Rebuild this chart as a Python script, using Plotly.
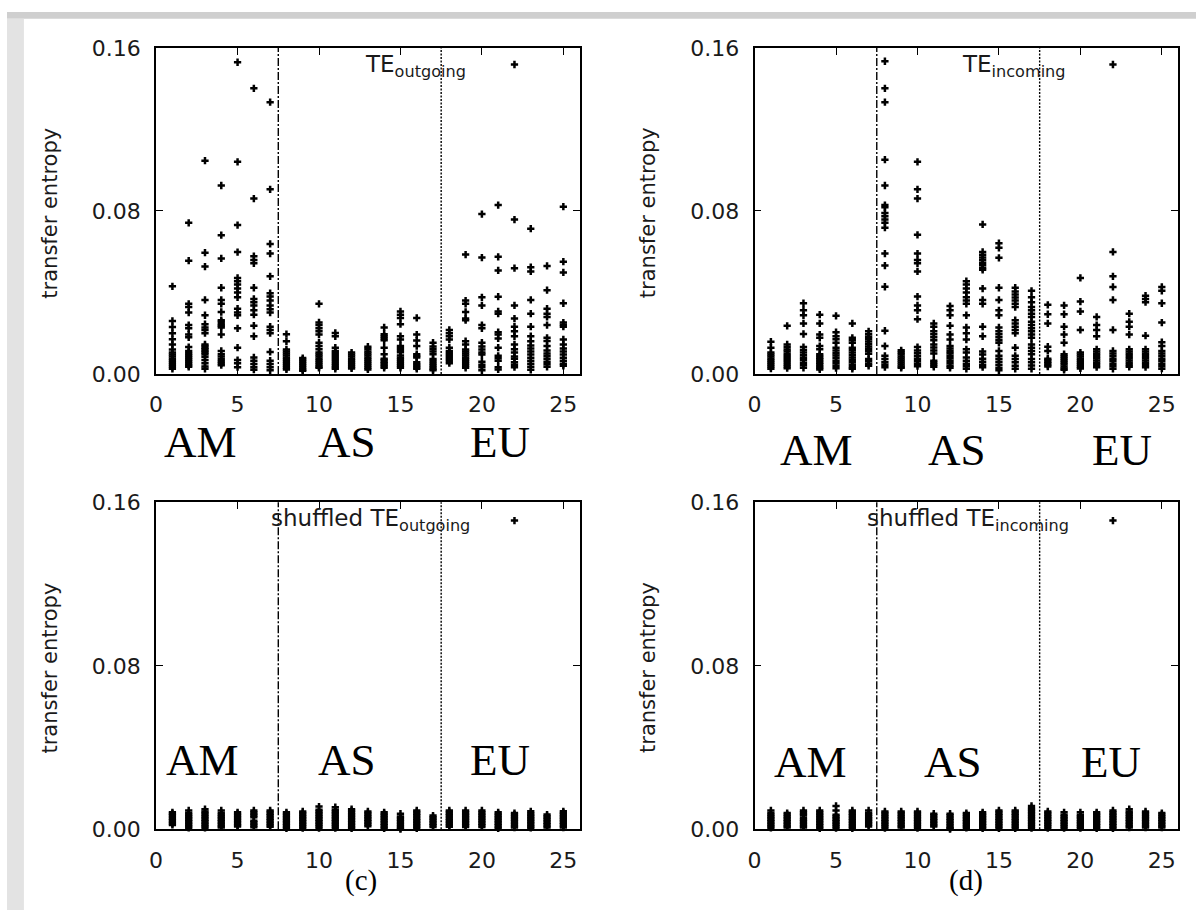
import plotly.graph_objects as go

# ---------------- data ----------------
markets = list(range(1, 26))

te_out = [
    [0.043, 0.026, 0.023, 0.020, 0.017, 0.0145, 0.012, 0.0105, 0.0095, 0.0085, 0.0075, 0.0065, 0.0055, 0.0045, 0.0035, 0.0025],
    [0.0742, 0.0556, 0.0344, 0.0328, 0.0301, 0.024, 0.0224, 0.0193, 0.018, 0.0132, 0.0113, 0.0102, 0.0092, 0.0082, 0.0072, 0.0062, 0.0052, 0.0042, 0.0035],
    [0.1047, 0.0595, 0.0527, 0.0363, 0.0288, 0.0244, 0.0228, 0.0216, 0.02, 0.0145, 0.0137, 0.0129, 0.0121, 0.0113, 0.0105, 0.0097, 0.0084, 0.0068, 0.0053, 0.0037, 0.0025],
    [0.0925, 0.0681, 0.0567, 0.0423, 0.0363, 0.0344, 0.0304, 0.0264, 0.0256, 0.0244, 0.0236, 0.0228, 0.0193, 0.0113, 0.0097, 0.0085, 0.0073, 0.0062, 0.0052, 0.0043],
    [0.153, 0.1041, 0.0731, 0.0598, 0.0471, 0.0455, 0.0439, 0.0419, 0.04, 0.0376, 0.032, 0.0301, 0.0288, 0.0224, 0.0129, 0.0068, 0.0053, 0.0033],
    [0.1402, 0.0861, 0.0578, 0.0559, 0.0543, 0.0423, 0.0368, 0.0352, 0.0336, 0.0312, 0.0291, 0.0237, 0.0185, 0.0081, 0.0065, 0.0049, 0.0033, 0.0021],
    [0.1334, 0.0906, 0.0638, 0.0591, 0.0479, 0.0396, 0.038, 0.036, 0.0336, 0.0317, 0.0301, 0.0232, 0.0216, 0.02, 0.0108, 0.0065, 0.0049, 0.0033, 0.0018],
    [0.0195, 0.016, 0.012, 0.011, 0.010, 0.009, 0.008, 0.007, 0.006, 0.005, 0.004, 0.003, 0.0022],
    [0.0078, 0.007, 0.006, 0.005, 0.004, 0.003, 0.002, 0.0015],
    [0.0344, 0.0253, 0.024, 0.0224, 0.0209, 0.0193, 0.0153, 0.0137, 0.0121, 0.0105, 0.0095, 0.0085, 0.0075, 0.0065, 0.0055, 0.0045, 0.0035, 0.003],
    [0.0201, 0.0185, 0.0129, 0.0113, 0.0103, 0.0093, 0.0083, 0.0073, 0.0063, 0.0053, 0.0043, 0.0033, 0.0025],
    [0.0105, 0.0095, 0.0085, 0.0075, 0.0065, 0.0055, 0.0045, 0.0035, 0.0027],
    [0.0134, 0.0122, 0.011, 0.01, 0.009, 0.008, 0.007, 0.006, 0.005, 0.004, 0.003, 0.0022],
    [0.0228, 0.0195, 0.0185, 0.0175, 0.0165, 0.0129, 0.0097, 0.0075, 0.0068, 0.006, 0.0052, 0.0045, 0.0037, 0.003],
    [0.0307, 0.0291, 0.0275, 0.0244, 0.0185, 0.0169, 0.0137, 0.0127, 0.0117, 0.0107, 0.0091, 0.008, 0.007, 0.006, 0.005, 0.004, 0.003],
    [0.0275, 0.0193, 0.0164, 0.0137, 0.0097, 0.0088, 0.0081, 0.0057, 0.0048, 0.004, 0.0032, 0.0025],
    [0.0153, 0.0135, 0.0122, 0.011, 0.0097, 0.0073, 0.0063, 0.0053, 0.0043, 0.0033, 0.0024, 0.0018],
    [0.0216, 0.02, 0.0185, 0.0169, 0.0129, 0.0113, 0.0103, 0.0093, 0.0083, 0.0073, 0.0063, 0.0053],
    [0.0586, 0.036, 0.0344, 0.0304, 0.0272, 0.0264, 0.0161, 0.0145, 0.012, 0.011, 0.01, 0.009, 0.008, 0.007, 0.006, 0.005, 0.004, 0.003],
    [0.0785, 0.0571, 0.0376, 0.0336, 0.024, 0.0224, 0.0153, 0.0135, 0.012, 0.0105, 0.0095, 0.006, 0.0045, 0.0033, 0.0018],
    [0.0829, 0.0575, 0.0508, 0.0379, 0.0307, 0.0296, 0.0205, 0.0193, 0.0174, 0.0129, 0.0089, 0.0077, 0.0065, 0.0033, 0.0022],
    [0.1519, 0.0758, 0.0519, 0.0336, 0.0272, 0.0232, 0.0209, 0.0185, 0.0145, 0.0121, 0.0105, 0.0085, 0.0075, 0.0057, 0.0045, 0.0033],
    [0.0713, 0.0524, 0.0503, 0.0363, 0.0296, 0.0232, 0.0185, 0.016, 0.014, 0.0125, 0.011, 0.0095, 0.008, 0.0065, 0.005, 0.0035, 0.002],
    [0.053, 0.0411, 0.032, 0.0296, 0.028, 0.024, 0.0177, 0.0162, 0.0137, 0.0115, 0.01, 0.0088, 0.0075, 0.006, 0.0048, 0.0035],
    [0.0821, 0.0551, 0.0498, 0.0347, 0.0252, 0.0242, 0.0232, 0.0169, 0.0145, 0.0125, 0.011, 0.0095, 0.008, 0.0065, 0.005, 0.004],
]

te_in = [
    [0.0158, 0.0129, 0.0105, 0.0095, 0.0085, 0.0075, 0.0065, 0.0055, 0.0045, 0.0035, 0.0026],
    [0.0236, 0.0145, 0.0132, 0.012, 0.011, 0.0098, 0.0088, 0.0078, 0.0068, 0.0058, 0.0048, 0.0038, 0.0028],
    [0.0347, 0.0312, 0.0288, 0.0248, 0.0196, 0.0132, 0.0118, 0.0105, 0.0092, 0.008, 0.0068, 0.0055, 0.0043, 0.003],
    [0.0291, 0.0248, 0.0193, 0.0177, 0.0137, 0.0121, 0.0097, 0.0088, 0.008, 0.0072, 0.0063, 0.0055, 0.0047, 0.0038, 0.003, 0.0022],
    [0.0285, 0.0205, 0.0185, 0.017, 0.0153, 0.0129, 0.0115, 0.0102, 0.009, 0.0078, 0.0065, 0.0052, 0.004, 0.0028],
    [0.0248, 0.0177, 0.0165, 0.0153, 0.0129, 0.0117, 0.0105, 0.0093, 0.0081, 0.0069, 0.0057, 0.0045, 0.0033, 0.0025],
    [0.0209, 0.0195, 0.0183, 0.0171, 0.0159, 0.0147, 0.0135, 0.0123, 0.0111, 0.0099, 0.0073, 0.0062, 0.005, 0.004],
    [0.1535, 0.1402, 0.1334, 0.1052, 0.0925, 0.0829, 0.0818, 0.079, 0.0774, 0.0758, 0.0742, 0.0718, 0.0591, 0.0532, 0.0428, 0.0212, 0.0137, 0.0089, 0.0073, 0.0057, 0.0045, 0.0033],
    [0.0116, 0.0106, 0.0096, 0.0086, 0.0076, 0.0066, 0.0056, 0.0046, 0.0036, 0.003],
    [0.1041, 0.0906, 0.0861, 0.0683, 0.0591, 0.0559, 0.0543, 0.0503, 0.038, 0.0336, 0.0312, 0.0269, 0.0132, 0.0115, 0.0102, 0.0088, 0.0075, 0.0062, 0.005, 0.0038],
    [0.0248, 0.0232, 0.0209, 0.0195, 0.018, 0.0165, 0.0145, 0.013, 0.0115, 0.01, 0.0065, 0.0055, 0.0045, 0.0035],
    [0.0333, 0.0312, 0.0288, 0.0237, 0.0193, 0.0169, 0.0137, 0.0125, 0.0113, 0.0101, 0.0089, 0.0077, 0.0065, 0.0053, 0.004, 0.003],
    [0.0455, 0.0439, 0.0419, 0.04, 0.0376, 0.036, 0.0344, 0.0288, 0.0228, 0.02, 0.0169, 0.0121, 0.0105, 0.0081, 0.0065, 0.005, 0.0038, 0.0025],
    [0.0734, 0.0599, 0.0585, 0.0572, 0.0559, 0.0546, 0.0533, 0.052, 0.0511, 0.0419, 0.0363, 0.0344, 0.0232, 0.0185, 0.011, 0.0095, 0.0075, 0.006, 0.0045, 0.0033],
    [0.0642, 0.0619, 0.057, 0.0423, 0.0363, 0.0312, 0.0288, 0.0228, 0.021, 0.0195, 0.018, 0.0165, 0.0153, 0.0113, 0.0089, 0.0075, 0.006, 0.0045, 0.003, 0.0018],
    [0.0423, 0.0405, 0.039, 0.0375, 0.036, 0.0345, 0.0328, 0.0264, 0.0248, 0.0232, 0.0216, 0.02, 0.0129, 0.0089, 0.0073, 0.0057, 0.004, 0.0025],
    [0.0408, 0.0376, 0.0352, 0.0328, 0.0312, 0.0296, 0.028, 0.0256, 0.024, 0.0224, 0.0209, 0.0193, 0.0177, 0.0145, 0.0129, 0.0113, 0.0097, 0.0073, 0.0057, 0.0041, 0.0025],
    [0.0339, 0.0293, 0.0248, 0.0134, 0.0113, 0.0075, 0.0068, 0.006, 0.0052, 0.0044, 0.0036],
    [0.0336, 0.0293, 0.0232, 0.0193, 0.0153, 0.0097, 0.0087, 0.0077, 0.0067, 0.0057, 0.0047, 0.0037, 0.0027, 0.002],
    [0.0471, 0.0355, 0.0307, 0.0216, 0.0105, 0.0095, 0.0085, 0.0075, 0.0065, 0.0055, 0.0045, 0.0035, 0.0027],
    [0.028, 0.024, 0.0216, 0.0185, 0.0121, 0.011, 0.0099, 0.0088, 0.0077, 0.0066, 0.0055, 0.0044, 0.0033],
    [0.1519, 0.0599, 0.0479, 0.0427, 0.0363, 0.0216, 0.0113, 0.01, 0.0088, 0.0075, 0.0063, 0.005, 0.0038, 0.0025],
    [0.0296, 0.0256, 0.0232, 0.0193, 0.0121, 0.011, 0.0099, 0.0088, 0.0077, 0.0066, 0.0055, 0.0044, 0.0035],
    [0.0384, 0.0368, 0.0352, 0.0188, 0.0121, 0.011, 0.0099, 0.0088, 0.0077, 0.0066, 0.0055, 0.0044, 0.0033],
    [0.0427, 0.0408, 0.0347, 0.0252, 0.0156, 0.0137, 0.0113, 0.01, 0.0088, 0.0075, 0.0063, 0.005, 0.0038, 0.0026],
]

sh_out = [
    [0.0083, 0.0076, 0.0068, 0.006, 0.0052, 0.0044, 0.0036, 0.0028, 0.0021],
    [0.0092, 0.0079, 0.0071, 0.0063, 0.0055, 0.0047, 0.0039, 0.0031, 0.0023, 0.0015, 0.0007],
    [0.0098, 0.0087, 0.0079, 0.0071, 0.0063, 0.0055, 0.0047, 0.0039, 0.0031, 0.0023, 0.0015, 0.0007],
    [0.0092, 0.0079, 0.0071, 0.0063, 0.0055, 0.0047, 0.0039, 0.0031, 0.0023, 0.0015, 0.0009],
    [0.0083, 0.0075, 0.0067, 0.0059, 0.0051, 0.0043, 0.0035, 0.0027, 0.0019, 0.0013],
    [0.0092, 0.0083, 0.0075, 0.0067, 0.0059, 0.0042, 0.0034, 0.0026, 0.0018, 0.001],
    [0.0092, 0.0084, 0.0076, 0.0068, 0.006, 0.0052, 0.0044, 0.0036, 0.0028, 0.002, 0.0012],
    [0.0083, 0.0075, 0.0067, 0.0059, 0.0051, 0.0043, 0.0035, 0.0027, 0.0019, 0.0011, 0.0004],
    [0.0087, 0.0079, 0.0071, 0.0063, 0.0055, 0.0047, 0.0039, 0.0031, 0.0023, 0.0015, 0.0006],
    [0.0111, 0.0095, 0.0087, 0.0079, 0.0071, 0.0063, 0.0055, 0.0047, 0.0039, 0.0031, 0.0023, 0.0015, 0.0006],
    [0.0108, 0.0095, 0.0087, 0.0079, 0.0071, 0.0063, 0.0055, 0.0047, 0.0039, 0.0031, 0.0023, 0.0015, 0.0006],
    [0.0098, 0.009, 0.0082, 0.0074, 0.0066, 0.0058, 0.005, 0.0042, 0.0034, 0.0026, 0.0018, 0.001, 0.0004],
    [0.0087, 0.0079, 0.0071, 0.0063, 0.0055, 0.0047, 0.0039, 0.0031, 0.0023, 0.0015],
    [0.0083, 0.0075, 0.0067, 0.0059, 0.0051, 0.0043, 0.0035, 0.0027, 0.0019, 0.0011, 0.0004],
    [0.0076, 0.0063, 0.0055, 0.0047, 0.0039, 0.0031, 0.0023, 0.0015, 0.0007, 0.0001],
    [0.0092, 0.0084, 0.0076, 0.0068, 0.006, 0.0052, 0.0044, 0.0036, 0.0028, 0.002, 0.0012, 0.0004],
    [0.0067, 0.0059, 0.0051, 0.0043, 0.0035, 0.0027, 0.0019, 0.0011],
    [0.0092, 0.0084, 0.0076, 0.0068, 0.006, 0.0052, 0.0044, 0.0036, 0.0028, 0.002, 0.0012],
    [0.0092, 0.0083, 0.0075, 0.0067, 0.0059, 0.0051, 0.0043, 0.0035, 0.0027, 0.0019, 0.0011],
    [0.0092, 0.0083, 0.0075, 0.0067, 0.0059, 0.0051, 0.0043, 0.0035, 0.0027, 0.0019, 0.0011],
    [0.0083, 0.0075, 0.0067, 0.0059, 0.0051, 0.0043, 0.0035, 0.0027, 0.0019, 0.0011, 0.0004],
    [0.1511, 0.0079, 0.0071, 0.0063, 0.0055, 0.0047, 0.0039, 0.0031, 0.0023, 0.0015, 0.0008],
    [0.0088, 0.0078, 0.007, 0.0062, 0.0054, 0.0046, 0.0038, 0.003, 0.0022, 0.0014, 0.0007],
    [0.0072, 0.0064, 0.0056, 0.0048, 0.004, 0.0032, 0.0024, 0.0016, 0.0009],
    [0.0088, 0.008, 0.0072, 0.0064, 0.0056, 0.0048, 0.004, 0.0032, 0.0024, 0.0016, 0.0008],
]

sh_in = [
    [0.0092, 0.0079, 0.0071, 0.0063, 0.0055, 0.0047, 0.0039, 0.0031, 0.0023, 0.0015, 0.0007],
    [0.0079, 0.0071, 0.0063, 0.0055, 0.0047, 0.0039, 0.0031, 0.0023, 0.0015, 0.0009],
    [0.0092, 0.0083, 0.0075, 0.0067, 0.0055, 0.0047, 0.0039, 0.0031, 0.0023, 0.0015, 0.0009],
    [0.0092, 0.0083, 0.0075, 0.0067, 0.0059, 0.0051, 0.0043, 0.0035, 0.0027, 0.0019, 0.0011, 0.0004],
    [0.0114, 0.0092, 0.0071, 0.0063, 0.0055, 0.0047, 0.0039, 0.0031, 0.0023, 0.0015, 0.0006],
    [0.0092, 0.0084, 0.0076, 0.0068, 0.006, 0.0052, 0.0044, 0.0036, 0.0028, 0.002, 0.0012, 0.0004],
    [0.0092, 0.0079, 0.0071, 0.0063, 0.0054, 0.0046, 0.0038, 0.003, 0.0022, 0.0014],
    [0.0087, 0.0079, 0.0071, 0.0063, 0.0055, 0.0047, 0.0039, 0.0031, 0.0023, 0.0015, 0.0006],
    [0.0087, 0.0079, 0.0071, 0.0063, 0.0055, 0.0047, 0.0039, 0.0031, 0.0023, 0.0015, 0.0009],
    [0.0087, 0.0079, 0.0071, 0.0063, 0.0055, 0.0047, 0.0039, 0.0031, 0.0023, 0.0015, 0.0006],
    [0.0076, 0.0068, 0.006, 0.0052, 0.0044, 0.0036, 0.0028, 0.002, 0.0013],
    [0.0076, 0.0068, 0.006, 0.0052, 0.0044, 0.0036, 0.0028, 0.002, 0.0012, 0.0005, 0.0001],
    [0.0079, 0.0071, 0.0063, 0.0055, 0.0047, 0.0039, 0.0031, 0.0023, 0.0015, 0.0007],
    [0.0083, 0.0075, 0.0067, 0.0059, 0.0051, 0.0043, 0.0035, 0.0027, 0.0019, 0.0011, 0.0004],
    [0.0092, 0.0084, 0.0076, 0.0068, 0.006, 0.0052, 0.0044, 0.0036, 0.0028, 0.002, 0.0012, 0.0004],
    [0.0092, 0.0084, 0.0076, 0.0068, 0.006, 0.0052, 0.0044, 0.0036, 0.0028, 0.002, 0.0012, 0.0004],
    [0.0114, 0.0103, 0.0095, 0.0087, 0.0079, 0.0071, 0.0063, 0.0055, 0.0047, 0.0039, 0.0031, 0.0023, 0.0015, 0.0006],
    [0.0087, 0.0079, 0.0071, 0.0063, 0.0055, 0.0047, 0.0039, 0.0031, 0.0023, 0.0015, 0.0006],
    [0.0083, 0.0071, 0.0063, 0.0055, 0.0047, 0.0039, 0.0031, 0.0023, 0.0015, 0.0006],
    [0.0083, 0.0071, 0.0063, 0.0056, 0.0046, 0.0038, 0.003, 0.0022, 0.0014, 0.0006],
    [0.0083, 0.0075, 0.0067, 0.0059, 0.0051, 0.0043, 0.0035, 0.0027, 0.0019, 0.0011, 0.0004],
    [0.1511, 0.0092, 0.0083, 0.0075, 0.0067, 0.0059, 0.0051, 0.0043, 0.0035, 0.0027, 0.0019, 0.0011, 0.0004],
    [0.0098, 0.0087, 0.0079, 0.0071, 0.0063, 0.0055, 0.0047, 0.0039, 0.0031, 0.0023, 0.0015, 0.0008],
    [0.0087, 0.0079, 0.0071, 0.0063, 0.0055, 0.0047, 0.0039, 0.0031, 0.0023, 0.0015, 0.0008],
    [0.0079, 0.0071, 0.0063, 0.0055, 0.0047, 0.0039, 0.0031, 0.0023, 0.0015, 0.0008],
]

x_ticks = [0, 5, 10, 15, 20, 25]
y_ticks = [0.0, 0.08, 0.16]
region_bounds = [7.5, 17.5]
region_labels = ["AM", "AS", "EU"]
panel_titles = ["TE<sub>outgoing</sub>", "TE<sub>incoming</sub>",
                "shuffled TE<sub>outgoing</sub>", "shuffled TE<sub>incoming</sub>"]
panel_letters = ["", "", "(c)", "(d)"]
y_title = "transfer entropy"

# ---------------- layout geometry (pixels) ----------------
W, H = 1196, 923
panels = [
    dict(data=te_out, x0=150, x1=576, y0=37, y1=372),
    dict(data=te_in, x0=752, x1=1178, y0=37, y1=372),
    dict(data=sh_out, x0=150, x1=576, y0=504, y1=840),
    dict(data=sh_in, x0=752, x1=1178, y0=504, y1=840),
]
title_x = [12.7, 12.6, 6.9, 6.8]
label_pos = [
    [(195, 442), (342, 442), (496, 442)],
    [(814, 450), (956, 450), (1122, 450)],
    [(197, 769), (342, 769), (496, 769)],
    [(808, 771), (952, 771), (1110, 771)],
]
letter_pos = [None, None, (356, 893), (965, 893)]

def px(x):
    return x / W

def py(y):
    return 1 - y / H

fig = go.Figure()
TICKFONT = dict(family="DejaVu Sans", size=22, color="#1a1a1a")

annotations = []
shapes = [
    dict(type="rect", xref="paper", yref="paper", x0=0, x1=1, y0=py(7), y1=1,
         fillcolor="#cfcfcf", line_width=0, layer="below"),
    dict(type="rect", xref="paper", yref="paper", x0=0, x1=px(17), y0=0, y1=py(7),
         fillcolor="#e3e3e3", line_width=0, layer="below"),
]

for i, p in enumerate(panels):
    n = "" if i == 0 else str(i + 1)
    xs, ys = [], []
    for m, col in zip(markets, p["data"]):
        for v in col:
            xs.append(m)
            ys.append(v)
    fig.add_trace(go.Scatter(
        x=xs, y=ys, mode="markers", xaxis="x" + n, yaxis="y" + n,
        marker=dict(symbol="cross-thin", size=5.2, color="black",
                    line=dict(color="black", width=2.5)),
        cliponaxis=False, showlegend=False, hoverinfo="skip"))

    fig.update_layout(**{
        "xaxis" + n: dict(domain=[px(p["x0"]), px(p["x1"])], anchor="y" + n,
                          range=[0, 26], tickvals=x_ticks, ticks="inside", ticklen=7,
                          tickwidth=1.4, tickcolor="black", mirror="ticks",
                          showline=True, linecolor="black", linewidth=1.8,
                          showgrid=False, zeroline=False, tickfont=TICKFONT,
                          ticklabelstandoff=10, fixedrange=True),
        "yaxis" + n: dict(domain=[py(p["y1"]), py(p["y0"])], anchor="x" + n,
                          range=[0, 0.16], tickvals=y_ticks, tickformat=".2f",
                          ticks="inside", ticklen=7, tickwidth=1.4, tickcolor="black",
                          mirror="ticks", showline=True, linecolor="black", linewidth=1.8,
                          showgrid=False, zeroline=False, tickfont=TICKFONT,
                          ticklabelstandoff=9, fixedrange=True),
    })

    xr = "x" + n
    yd = ("y" + n) + " domain"
    shapes.append(dict(type="line", xref=xr, yref=yd, x0=region_bounds[0], x1=region_bounds[0],
                       y0=0, y1=1, line=dict(color="black", width=1.4, dash="8px,2px,2px,2px")))
    shapes.append(dict(type="line", xref=xr, yref=yd, x0=region_bounds[1], x1=region_bounds[1],
                       y0=0, y1=1, line=dict(color="black", width=1.4, dash="2px,1.5px")))

    annotations.append(dict(text=panel_titles[i], xref=xr, yref=yd, x=title_x[i], y=0.945,
                            xanchor="left", yanchor="middle", showarrow=False,
                            font=dict(family="DejaVu Sans", size=23, color="#1a1a1a")))
    annotations.append(dict(text=y_title, xref="paper", yref="paper",
                            x=px(p["x0"] - 107), y=py((p["y0"] + p["y1"]) / 2 + 2),
                            textangle=-90, showarrow=False, xanchor="center", yanchor="middle",
                            font=dict(family="DejaVu Sans", size=21, color="#1a1a1a")))
    for lab, (lx, ly) in zip(region_labels, label_pos[i]):
        annotations.append(dict(text=lab, xref="paper", yref="paper", x=px(lx), y=py(ly),
                                xanchor="center", yanchor="middle", showarrow=False,
                                font=dict(family="Liberation Serif", size=45, color="black")))
    if letter_pos[i]:
        lx, ly = letter_pos[i]
        annotations.append(dict(text=panel_letters[i], xref="paper", yref="paper",
                                x=px(lx), y=py(ly), xanchor="center", yanchor="middle",
                                showarrow=False,
                                font=dict(family="Liberation Serif", size=29, color="black")))

fig.update_layout(width=W, height=H, autosize=False,
                  margin=dict(l=0, r=0, t=0, b=0, pad=0),
                  paper_bgcolor="white", plot_bgcolor="white",
                  shapes=shapes, annotations=annotations)

fig.write_html("out.html", config={"displayModeBar": False})
